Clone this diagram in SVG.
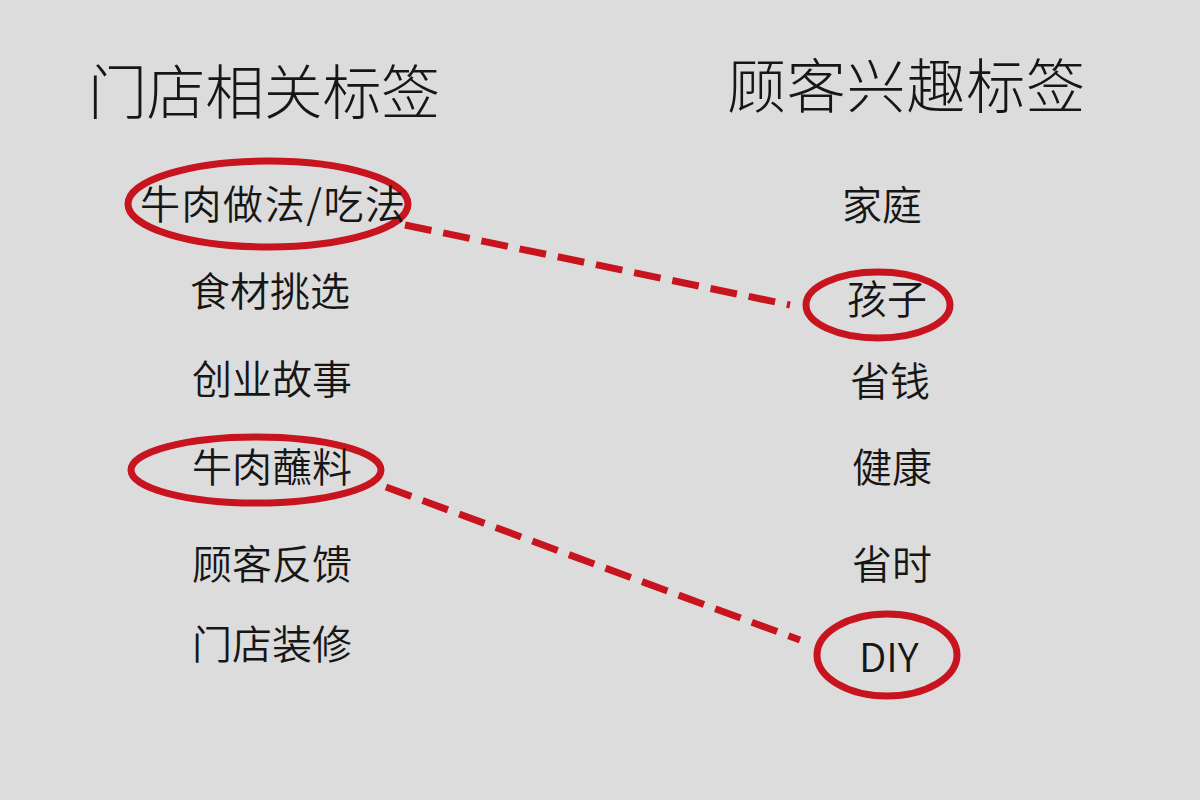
<svg xmlns="http://www.w3.org/2000/svg" width="1200" height="800" viewBox="0 0 1200 800">
<style>
.t{font-family:"Noto Sans CJK SC","Noto Sans",sans-serif;fill:#161616}
.h{font-size:59px;font-weight:300}
.i{font-size:40px;font-weight:350}
.e{fill:none;stroke:#c8141e;stroke-width:7}
.d{fill:none;stroke:#c8141e;stroke-width:7;stroke-dasharray:27 12}
</style>
<rect width="1200" height="800" fill="#dcdcdc"/>
<g id="titles">
<text class="t h" x="88" y="114" textLength="352" lengthAdjust="spacing">门店相关标签</text>
<text class="t h" x="727" y="108" textLength="358" lengthAdjust="spacing">顾客兴趣标签</text>
</g>
<g id="connectors">
<line class="d" x1="405" y1="225" x2="790" y2="305"/>
<line class="d" x1="386" y1="487" x2="800" y2="640"/>
</g>
<g id="left-1"><ellipse class="e" cx="268" cy="204" rx="140" ry="43"/><text class="t i" x="140" y="219" textLength="265" lengthAdjust="spacing">牛肉做法/吃法</text></g>
<g id="left-2"><text class="t i" x="190" y="306">食材挑选</text></g>
<g id="left-3"><text class="t i" x="192" y="394">创业故事</text></g>
<g id="left-4"><ellipse class="e" cx="256" cy="470" rx="125" ry="33"/><text class="t i" x="192" y="482">牛肉蘸料</text></g>
<g id="left-5"><text class="t i" x="192" y="579">顾客反馈</text></g>
<g id="left-6"><text class="t i" x="192" y="659">门店装修</text></g>
<g id="right-1"><text class="t i" x="842" y="220">家庭</text></g>
<g id="right-2"><ellipse class="e" cx="878" cy="305" rx="72" ry="33"/><text class="t i" x="847" y="314">孩子</text></g>
<g id="right-3"><text class="t i" x="850" y="396">省钱</text></g>
<g id="right-4"><text class="t i" x="852" y="482">健康</text></g>
<g id="right-5"><text class="t i" x="852" y="579">省时</text></g>
<g id="right-6"><ellipse class="e" cx="887" cy="655" rx="70" ry="41"/><text class="t i" x="859" y="672">DIY</text></g>
</svg>
